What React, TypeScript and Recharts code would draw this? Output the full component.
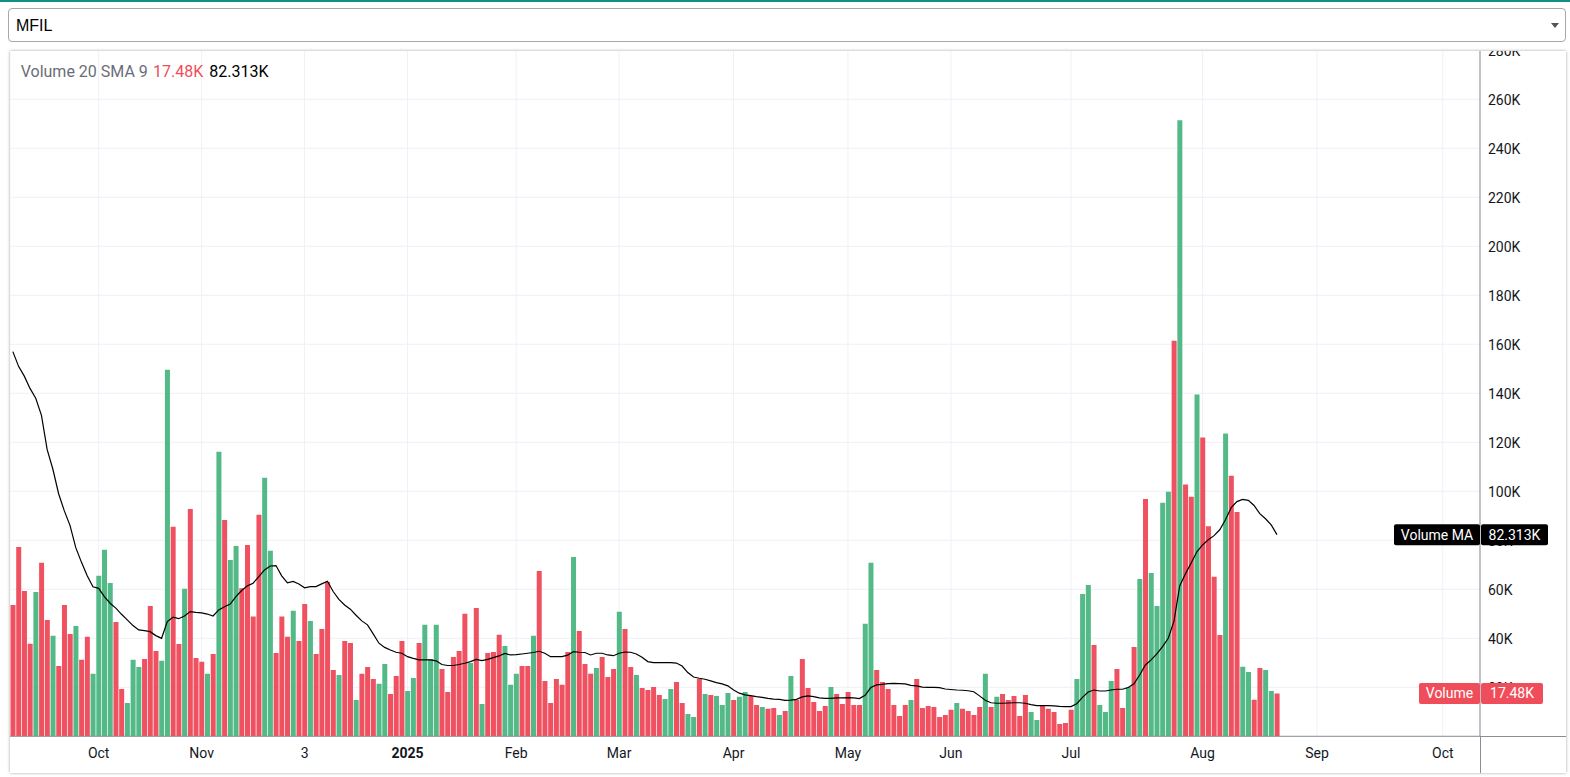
import React from 'react';
import { ComposedChart, Bar, Line, XAxis, YAxis, CartesianGrid, Cell, ReferenceLine } from 'recharts';

// Daily volume, in thousands (K)
const volumeK = [
  53.6, 77.3, 59.3, 37.8, 58.9, 70.8, 47.5, 41.0, 28.7, 53.6,
  41.8, 45.0, 31.2, 40.6, 25.5, 65.5, 76.1, 62.6, 46.7, 19.3,
  13.6, 31.2, 28.3, 31.6, 53.2, 34.8, 30.8, 149.6, 85.5, 37.7,
  60.2, 92.8, 32.0, 30.4, 25.5, 33.6, 116.1, 88.3, 72.0, 77.7,
  60.4, 78.1, 48.9, 90.4, 105.5, 75.7, 34.0, 48.9, 40.6, 51.2,
  38.9, 54.0, 47.1, 33.6, 43.8, 63.0, 27.1, 25.0, 38.9, 38.1,
  14.8, 25.5, 28.3, 23.4, 21.4, 29.5, 17.3, 24.6, 38.9, 18.5,
  23.8, 38.1, 45.5, 31.6, 45.5, 27.5, 18.1, 32.4, 34.8, 50.0,
  29.9, 52.4, 13.2, 34.0, 34.4, 41.4, 36.9, 21.0, 25.5, 28.7,
  28.7, 41.0, 67.5, 22.6, 13.6, 23.4, 21.0, 34.4, 73.2, 43.0,
  29.5, 25.5, 27.9, 32.4, 24.2, 27.5, 50.8, 43.8, 28.3, 25.0,
  19.7, 18.9, 20.1, 16.9, 15.2, 19.3, 22.2, 13.6, 9.1, 7.9,
  23.4, 17.3, 16.9, 16.5, 12.8, 17.7, 14.8, 16.1, 18.1, 16.5,
  12.8, 12.0, 11.2, 11.6, 8.7, 10.3, 24.6, 14.8, 31.6, 19.7,
  14.0, 10.3, 12.4, 20.1, 17.3, 13.2, 18.1, 12.8, 12.8, 45.9,
  70.8, 27.1, 22.2, 19.3, 12.8, 8.3, 12.8, 14.8, 23.4, 11.6,
  12.4, 12.0, 7.9, 8.7, 10.8, 13.6, 11.2, 10.3, 8.7, 12.0,
  25.5, 12.0, 16.1, 17.3, 14.8, 16.5, 8.3, 16.9, 9.9, 6.7,
  12.4, 11.2, 9.9, 5.0, 5.4, 10.8, 23.4, 58.1, 61.8, 37.3,
  12.8, 9.9, 22.6, 27.5, 11.6, 20.1, 36.5, 64.2, 96.9, 66.7,
  53.2, 95.3, 99.8, 161.4, 251.5, 102.8, 97.8, 139.5, 122.0, 85.7,
  65.1, 41.3, 123.6, 106.3, 91.6, 28.4, 26.2, 14.9, 27.9, 27.1,
  18.5, 17.48,
];

// g = up (green), r = down (red)
const barDirection = (
  'rrrrgrrgrr' + 'rgrrggggrr' + 'gggrrrggrr' + 'grrrgrgrgg' + 'rrrrggrrrg' +
  'rrgrrrrgrr' + 'grrrggrrrg' + 'grgggrrrrr' + 'grgrrrgggr' + 'rgrrrrrrgr' +
  'rrgrrrgrrg' + 'rrrrggrrgg' + 'rgrgggrggr' + 'rgrrgrgrrr' + 'rrrgrrrrrg' +
  'grrrrrrgrr' + 'rrrrrgrrrr' + 'grgrrrrrgg' + 'rrrrrrgggr' + 'gggrrgrgrg' +
  'gggrgrrgrr' + 'rrgrrggrrg' + 'gr'
).split('');

// Volume MA line, in thousands (K)
const maK = [
  157, 151, 147, 142, 138, 131, 117, 109, 99, 92,
  86, 77, 71, 65.5, 61, 60.4, 57, 54.3, 52.3, 49.8,
  47.5, 45.2, 43.4, 43.1, 42.7, 41.1, 40.0, 46.8, 48.6, 48.0,
  49.1, 50.9, 50.6, 50.4, 49.9, 49.1, 51.6, 52.9, 54.0, 57.0,
  59.5, 61.4, 62.5, 65.2, 67.9, 69.5, 69.7, 65.5, 62.6, 63.2,
  62.2, 60.6, 61.1, 61.1, 62.2, 63.3, 59.1, 55.9, 53.6, 51.9,
  49.4, 47.1, 45.5, 41.8, 38.0, 36.3, 35.2, 34.3, 33.9, 32.5,
  31.8, 31.2, 31.2, 31.2, 30.8, 29.3, 28.9, 28.9, 29.3, 29.8,
  30.5, 31.4, 30.9, 31.4, 32.1, 32.8, 33.8, 33.2, 33.3, 33.6,
  33.9, 34.2, 34.7, 33.9, 32.5, 32.5, 32.5, 33.1, 34.6, 34.3,
  34.2, 33.2, 33.9, 33.9, 33.2, 32.9, 33.9, 34.4, 34.3, 33.6,
  32.3, 30.5, 30.1, 30.1, 30.1, 30.1, 29.9, 28.7, 26.0, 24.2,
  23.7, 23.3, 22.6, 21.9, 21.4, 20.6, 18.9, 17.6, 16.9, 16.6,
  16.2, 15.9, 15.5, 15.2, 15.1, 14.7, 14.8, 15.1, 16.1, 16.5,
  16.2, 15.7, 15.5, 15.5, 15.7, 15.7, 15.8, 15.7, 15.4, 16.7,
  19.9, 21.0, 21.2, 21.5, 21.6, 21.5, 21.4, 20.8, 20.6, 20.1,
  20.0, 20.0, 19.9, 19.3, 19.1, 18.9, 18.8, 18.6, 18.2, 16.5,
  14.7, 13.7, 13.5, 13.5, 13.6, 13.7, 13.7, 13.5, 12.9, 12.5,
  12.5, 12.5, 12.4, 12.2, 12.1, 12.1, 13.3, 15.9, 18.1, 18.9,
  18.5, 18.5, 18.9, 19.2, 19.2, 19.9, 21.4, 25.0, 29.1, 31.2,
  33.6, 36.6, 40.0, 47.0, 61.4, 66.3, 70.7, 75.3, 78.1, 80.2,
  81.9, 84.3, 88.4, 93.3, 95.8, 96.7, 96.3, 94.2, 90.9, 88.8,
  86.3, 82.313,
];

const slotCount = 257; // bars + empty future slots on the time scale
const monthTickIndex = [15, 33, 51, 69, 88, 106, 126, 146, 164, 185, 208, 228, 250];
const monthTickLabel = ['Oct', 'Nov', '3', '2025', 'Feb', 'Mar', 'Apr', 'May', 'Jun', 'Jul', 'Aug', 'Sep', 'Oct'];
const yTickValues = [20000, 40000, 60000, 80000, 100000, 120000, 140000, 160000, 180000, 200000, 220000, 240000, 260000, 280000];

const UP = '#53b987';
const DOWN = '#ef5160';
const LABEL_RED = '#f04d5a';
const FONT = 'Roboto, "Noto Sans", Arial, sans-serif';
const TEXT = '#131722';
const AXIS = '#8a8d96';
const GRID = '#eff1f7';

const rows = Array.from({ length: slotCount }, (_, i) => ({
  i,
  vol: i < volumeK.length ? volumeK[i] * 1000 : null,
  ma: i < maK.length ? maK[i] * 1000 : null,
  dir: barDirection[i] || 'g',
}));

const lastVol = volumeK[volumeK.length - 1] * 1000;
const lastMa = maK[maK.length - 1] * 1000;
const fmtK = (v: number) => `${(v / 1000).toFixed(v % 1000 === 0 ? 0 : v % 100 === 0 ? 1 : v % 10 === 0 ? 2 : 3)}K`;

const CHART_W = 1556;
const CHART_H = 732;
const CHART_MARGIN = { top: 9.3, right: 0, bottom: 0, left: 0 };
const X_AXIS_H = 36.7;
const Y_AXIS_W = 86;

const XTick = (props: any) => {
  const { x, y, payload } = props;
  const idx = monthTickIndex.indexOf(payload.value);
  const label = monthTickLabel[idx] ?? '';
  return (
    <text x={x} y={y + 21.5} textAnchor="middle" fontFamily={FONT} fontSize={14} fill={TEXT}
      fontWeight={label === '2025' ? 700 : 400}>
      {label}
    </text>
  );
};

const YTick = (props: any) => {
  const { x, y, payload } = props;
  return (
    <text x={x + 8} y={y + 5.5} textAnchor="start" fontFamily={FONT} fontSize={14} fill={TEXT}>
      {`${payload.value / 1000}K`}
    </text>
  );
};

const makeAxisLabel = (name: string, value: string, fill: string, leftW: number, rightW: number) => (props: any) => {
  const vb = props.viewBox || {};
  const ax = (vb.x ?? 0) + (vb.width ?? 0);
  const cy = vb.y ?? 0;
  const h = 21;
  return (
    <g>
      <rect x={ax - leftW} y={cy - h / 2} width={leftW} height={h} rx={2} fill={fill} />
      <rect x={ax + 1} y={cy - h / 2} width={rightW} height={h} rx={2} fill={fill} />
      <text x={ax - leftW / 2} y={cy + 5} textAnchor="middle" fontFamily={FONT} fontSize={14} fill="#fff">{name}</text>
      <text x={ax + 1 + rightW / 2} y={cy + 5} textAnchor="middle" fontFamily={FONT} fontSize={14} fill="#fff">{value}</text>
    </g>
  );
};

export default function App() {
  return (
    <div style={{ position: 'absolute', left: 0, top: 0, width: 1570, height: 777, background: '#fff', overflow: 'hidden' }}>
      <div style={{ position: 'absolute', left: 0, top: 0, width: 1570, height: 2, background: '#138f88' }} />
      {/* symbol dropdown */}
      <div style={{ position: 'absolute', left: 8, top: 8, width: 1556, height: 32, border: '1px solid #a7a7a7', borderRadius: 4, background: '#fff' }} />
      <svg style={{ position: 'absolute', left: 0, top: 0 }} width={1570} height={50}>
        <text x={16} y={31} fontFamily='"Liberation Sans", Arial, sans-serif' fontSize={16} fill="#000">MFIL</text>
        <path d="M1551 23 L1559 23 L1555 28 Z" fill="#555" />
      </svg>
      {/* chart frame */}
      <div style={{ position: 'absolute', left: 10, top: 51, width: 1556, height: 722, background: '#fff', overflow: 'hidden', boxShadow: '0 0 3px rgba(0,0,0,0.35)' }}>
        <div style={{ position: 'absolute', left: 0, top: -10 }}>
          <ComposedChart width={CHART_W} height={CHART_H} data={rows} margin={CHART_MARGIN} barCategoryGap={0.5}>
            <CartesianGrid stroke={GRID} strokeWidth={1} />
            <XAxis dataKey="i" type="category" ticks={monthTickIndex} interval={0} tick={<XTick />} tickLine={false}
              tickSize={0} tickMargin={0} height={X_AXIS_H} axisLine={{ stroke: AXIS }} />
            <YAxis orientation="right" width={Y_AXIS_W} domain={[0, 280000]} ticks={yTickValues} interval={0} tick={<YTick />}
              tickLine={false} tickSize={0} tickMargin={0} axisLine={{ stroke: AXIS }} allowDataOverflow />
            <Bar dataKey="vol" isAnimationActive={false}>
              {rows.map((r) => (
                <Cell key={r.i} fill={r.dir === 'g' ? UP : DOWN} />
              ))}
            </Bar>
            <Line dataKey="ma" type="linear" stroke="#000" strokeWidth={1.2} dot={false} isAnimationActive={false} connectNulls={false} />
          </ComposedChart>
        </div>
        {/* axis-line extensions into the price scale / time scale corner */}
        <div style={{ position: 'absolute', left: 1470, top: 685, width: 86, height: 1, background: AXIS }} />
        <div style={{ position: 'absolute', left: 1469.5, top: 685, width: 1, height: 40, background: AXIS }} />
        {/* overlay with the last-value labels, drawn above the price-scale ticks */}
        <div style={{ position: 'absolute', left: 0, top: -10, pointerEvents: 'none' }}>
          <ComposedChart width={CHART_W} height={CHART_H} data={rows} margin={CHART_MARGIN}>
            <XAxis dataKey="i" type="category" tick={false} tickLine={false} axisLine={false} height={X_AXIS_H} />
            <YAxis orientation="right" width={Y_AXIS_W} domain={[0, 280000]} ticks={yTickValues} tick={false}
              tickLine={false} axisLine={false} allowDataOverflow />
            <ReferenceLine y={lastMa} stroke="none" ifOverflow="visible"
              label={makeAxisLabel('Volume MA', fmtK(lastMa), '#000', 86, 67)} />
            <ReferenceLine y={lastVol} stroke="none" ifOverflow="visible"
              label={makeAxisLabel('Volume', fmtK(lastVol), LABEL_RED, 61, 62)} />
          </ComposedChart>
        </div>
        {/* legend */}
        <svg style={{ position: 'absolute', left: 0, top: 0 }} width={400} height={40}>
          <text x={10.7} y={26.3} fontFamily={FONT} fontSize={16} fill="#6a6d78">Volume 20 SMA 9</text>
          <text x={143} y={26.3} fontFamily={FONT} fontSize={16} fill={LABEL_RED}>{fmtK(lastVol)}</text>
          <text x={199.3} y={26.3} fontFamily={FONT} fontSize={16} fill="#000">{fmtK(lastMa)}</text>
        </svg>
      </div>
    </div>
  );
}
